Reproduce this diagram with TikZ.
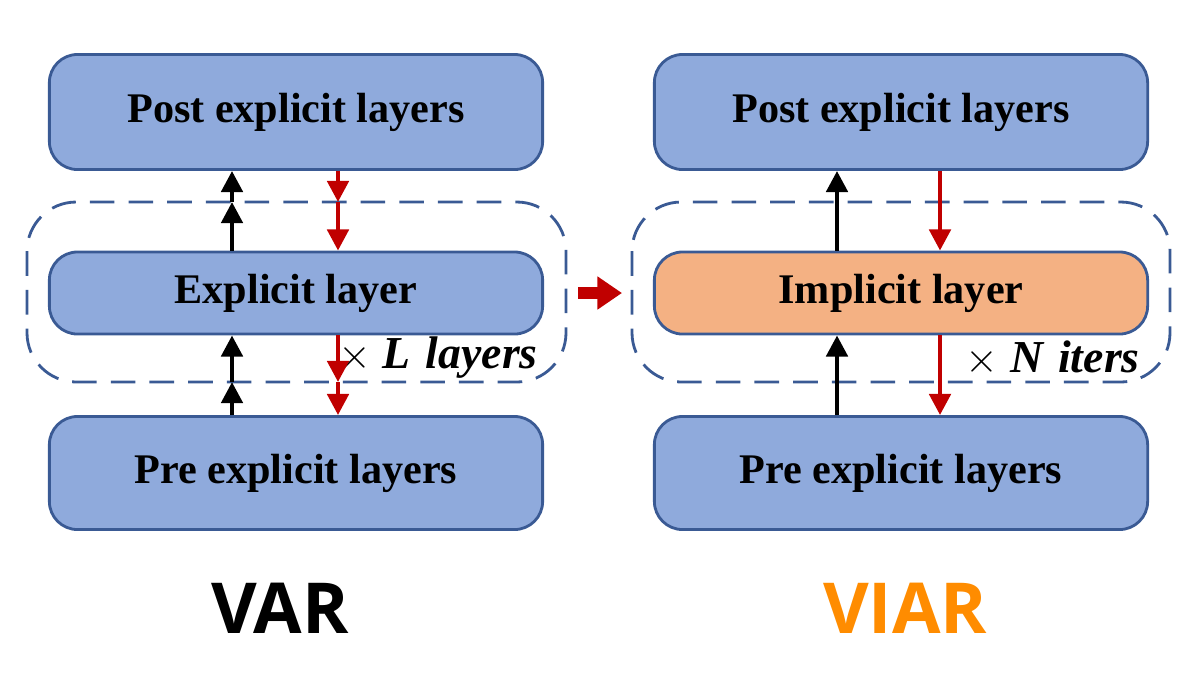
\documentclass[tikz,border=0pt]{standalone}
\usepackage{fontspec}
\setmainfont{Liberation Serif}
\setsansfont{Open Sans}
\usetikzlibrary{arrows.meta, positioning}
\definecolor{boxblue}{HTML}{8FAADC}
\definecolor{boxline}{HTML}{3A5A94}
\definecolor{boxorange}{HTML}{F4B183}
\definecolor{arrred}{HTML}{C00000}
\definecolor{viarorange}{HTML}{FF8C00}

\begin{document}
\begin{tikzpicture}[
    x=0.01cm, y=-0.01cm,
    layer/.style={
        rectangle, draw=boxline,
        fill=boxblue,
        line width=0.8pt,
        rounded corners=8pt,
        font=\fontsize{12}{14}\selectfont\bfseries,
        minimum width=4.93cm
    },
    loopbox/.style={draw=boxline, dashed, dash pattern=on 7pt off 4pt, line width=0.8pt, rounded corners=14pt},
    up/.style={-{Triangle[length=6pt,width=6pt]}, line width=1.3pt, black},
    down/.style={-{Triangle[length=6pt,width=6pt]}, line width=1.3pt, arrred},
    title/.style={font=\sffamily\bfseries\fontsize{20}{24}\selectfont}
]
\useasboundingbox (0,0) rectangle (1200,675);

% VAR side
\node [layer, minimum height=1.15cm] (post1) at (296,112) {Post explicit layers};
\node [layer, minimum height=0.82cm] (mid1) at (296,293) {Explicit layer};
\node [layer, minimum height=1.13cm] (pre1) at (296,473) {Pre explicit layers};
\draw [loopbox] (27,202) rectangle (566,382);
\node [font=\bfseries\itshape\fontsize{13}{14}\selectfont, anchor=east] (times1) at (550,358) {$\times$ L\,\,layers};

\coordinate (ua1) at (232,202);
\coordinate (ub1) at (232,382);
\coordinate (da1) at (338,202);
\coordinate (db1) at (338,382);
\draw [up] (pre1.north -| ub1) -- (ub1);
\draw [up] (ub1) -- (ub1 |- mid1.south);
\draw [up] (mid1.north -| ua1) -- (ua1);
\draw [up] (ua1) -- (ua1 |- post1.south);
\draw [down] (post1.south -| da1) -- (da1);
\draw [down] (da1) -- (da1 |- mid1.north);
\draw [down] (mid1.south -| db1) -- (db1);
\draw [down] (db1) -- (db1 |- pre1.north);

% VIAR side
\node [layer, minimum height=1.15cm] (post2) at (901,112) {Post explicit layers};
\node [layer, fill=boxorange, minimum height=0.82cm] (mid2) at (901,293) {Implicit layer};
\node [layer, minimum height=1.13cm] (pre2) at (901,473) {Pre explicit layers};
\draw [loopbox] (632,202) rectangle (1170,382);
\node [font=\bfseries\itshape\fontsize{13}{14}\selectfont, anchor=east] (times2) at (1152,358) {$\times$ N\,\,iters};

\coordinate (u2) at (837,0);
\coordinate (d2) at (940,0);
\draw [up] (pre2.north -| u2) -- (u2 |- mid2.south);
\draw [up] (mid2.north -| u2) -- (u2 |- post2.south);
\draw [down] (post2.south -| d2) -- (d2 |- mid2.north);
\draw [down] (mid2.south -| d2) -- (d2 |- pre2.north);

% transition arrow
\coordinate (ta) at (578,293);
\coordinate (tb) at (622,293);
\draw [arrred, line width=3.5pt, -{Triangle[length=7pt,width=9pt]}] (ta) -- (tb);

% titles
\node [title] (var) at (280,608) {VAR};
\node [title, text=viarorange] (viar) at (905,608) {VIAR};
\end{tikzpicture}
\end{document}
